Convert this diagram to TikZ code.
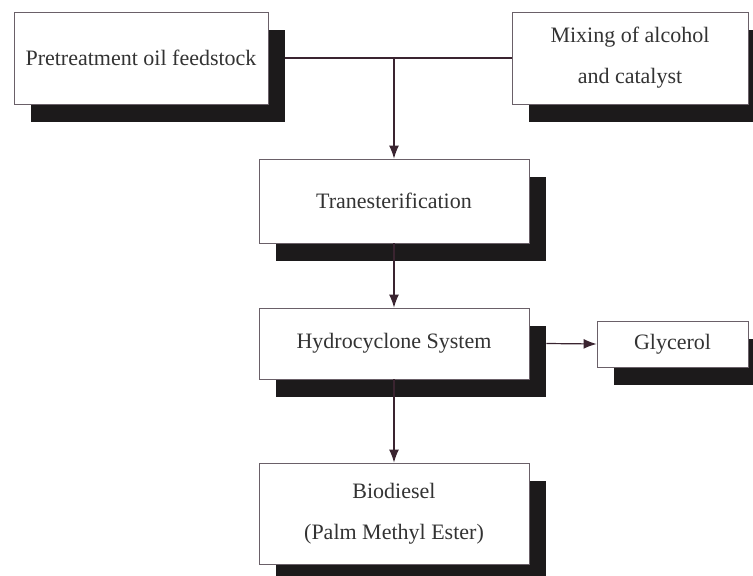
\documentclass[tikz,border=0pt]{standalone}
\usepackage{fontspec}
\setmainfont{Liberation Serif}
\usetikzlibrary{arrows.meta,shadows}
\definecolor{shadowc}{HTML}{1C1A1B}
\definecolor{linec}{HTML}{3A2430}
\definecolor{textc}{HTML}{333333}
\definecolor{borderc}{HTML}{6A6068}
\begin{document}
\begin{tikzpicture}[x=1pt,y=-1pt,
  box/.style={draw=borderc, line width=0.8pt, fill=white, rectangle, inner sep=0pt,
    font=\fontsize{22}{41}\selectfont, text=textc, align=center,
    general shadow={shadow xshift=17pt, shadow yshift=-18pt, fill=shadowc, draw=none}},
  conn/.style={draw=linec, line width=1.2pt},
  arr/.style={conn, -{Latex[length=13pt,width=10pt]}}]
\useasboundingbox (0,0) rectangle (753,576);
\clip (0,0) rectangle (753,576);
\node[box, minimum width=254pt, minimum height=92pt] (b1) at (141,58) {Pretreatment oil feedstock};
\node[box, minimum width=236pt, minimum height=92pt] (b2) at (630,58) {Mixing of alcohol\\and catalyst};
\node[box, minimum width=270pt, minimum height=84pt] (b3) at (394,201) {Tranesterification};
\node[box, minimum width=270pt, minimum height=71pt] (b4) at (394,343.5) {Hydrocyclone System};
\node[box, minimum width=151pt, minimum height=46pt] (b5) at (672.5,344) {Glycerol};
\node[box, minimum width=270pt, minimum height=101pt] (b6) at (394,513.5) {Biodiesel\\(Palm Methyl Ester)};
\coordinate (j) at (b3.north |- b2.west);
\draw[conn] ([xshift=17pt]b1.east) -- (b2.west);
\draw[arr] (j) -- (b3.north);
\draw[arr] (b3.south) -- (b4.north);
\draw[arr] ([xshift=17pt]b4.east) -- (b5.west);
\draw[arr] (b4.south) -- (b6.north);
\end{tikzpicture}
\end{document}
